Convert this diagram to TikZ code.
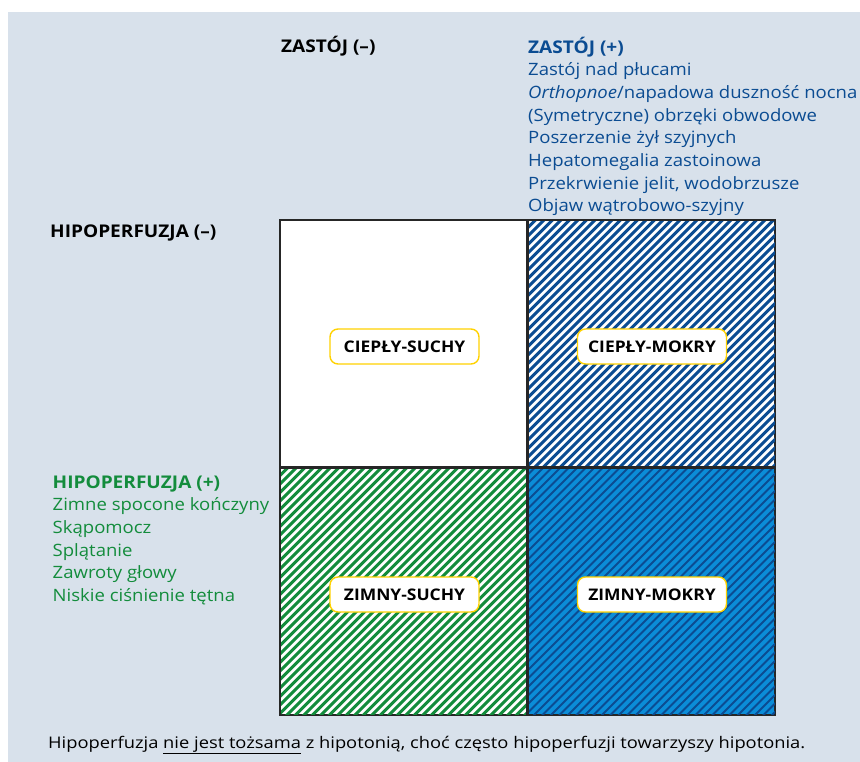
\documentclass[tikz,border=0pt]{standalone}
\usepackage{fontspec}
\usepackage{graphicx}
\setmainfont{Open Sans}[FakeStretch=1.09]
\definecolor{panelbg}{HTML}{D8E1EB}
\definecolor{navy}{HTML}{0B4C92}
\definecolor{leaf}{HTML}{138C3C}
\definecolor{sky}{HTML}{0B8DD8}
\definecolor{gold}{HTML}{FFD200}
\tikzset{
  cell/.style={draw=black!85, line width=1.2pt, minimum width=247pt, minimum height=247pt, anchor=north west, inner sep=0pt},
  stripeblue/.style={draw=navy, line width=3pt},
  stripedeep/.style={draw=navy, line width=2pt},
  stripegreen/.style={draw=leaf, line width=3pt},
  tag/.style={draw=gold, line width=1.4pt, fill=white, rounded corners=8pt, minimum width=149pt, minimum height=35pt, inner sep=0pt, font=\bfseries\fontsize{16}{18}\selectfont, text=black},
  txt/.style={anchor=base west, inner sep=0pt, font=\fontsize{17}{20}\selectfont},
  head/.style={txt, font=\bfseries\fontsize{17.5}{20}\selectfont},
}
\begin{document}
\begin{tikzpicture}[x=1pt, y=-1pt]
\useasboundingbox (0,0) rectangle (860,762);
\fill[white] (0,0) rectangle (860,762);
\fill[panelbg] (8,12) rectangle (860,762);

% quadrant cells
\node[cell, fill=white] (ws) at (280,220) {};
\node[cell, fill=white] (wm) at (527,220) {};
\node[cell, fill=white] (cs) at (280,467) {};
\node[cell, fill=sky] (cm) at (527,467) {};

% diagonal hatching
\begin{scope}
  \clip (wm.south west) rectangle (wm.north east);
  \foreach \k in {0,...,60} \draw[stripeblue] (527-250+\k*8.5, 470) -- ++(253,-253);
\end{scope}
\begin{scope}
  \clip (cs.south west) rectangle (cs.north east);
  \foreach \k in {0,...,60} \draw[stripegreen] (280-250+\k*8.5, 717) -- ++(253,-253);
\end{scope}
\begin{scope}
  \clip (cm.south west) rectangle (cm.north east);
  \foreach \k in {0,...,60} \draw[stripedeep] (527-250+\k*8.5, 717) -- ++(253,-253);
\end{scope}

% cell borders on top of the hatching
\foreach \c in {ws,wm,cs,cm} \draw[draw=black!85, line width=1.2pt] (\c.north west) rectangle (\c.south east);

% quadrant labels
\node[tag] (lws) at (404.5,346.5) {CIEPŁY-SUCHY};
\node[tag] (lwm) at (652,346.5) {CIEPŁY-MOKRY};
\node[tag] (lcs) at (404.5,594.5) {ZIMNY-SUCHY};
\node[tag] (lcm) at (652,594.5) {ZIMNY-MOKRY};

% axis headings
\node[head, text=black] (zneg) at (281,53) {ZASTÓJ (–)};
\node[head, text=black] (hneg) at (50,238) {HIPOPERFUZJA (–)};
\node[head, text=navy] (zpos) at (528,53.5) {ZASTÓJ (+)};
\node[head, text=leaf] (hpos) at (52.5,488) {HIPOPERFUZJA (+)};

% congestion signs
\foreach \t [count=\i] in {Zastój nad płucami, {\textit{Orthopnoe}/napadowa duszność nocna}, (Symetryczne) obrzęki obwodowe, Poszerzenie żył szyjnych, Hepatomegalia zastoinowa, {Przekrwienie jelit, wodobrzusze}, Objaw wątrobowo-szyjny}
  \node[txt, text=navy] (zs\i) at (528, 75.7+\i*22.7-22.7) {\t};

% hypoperfusion signs
\foreach \t [count=\i] in {Zimne spocone kończyny, Skąpomocz, Splątanie, Zawroty głowy, Niskie ciśnienie tętna}
  \node[txt, text=leaf] (hs\i) at (52.5, 510.7+\i*22.7-22.7) {\t};

% footnote
\node[txt, font=\fontsize{16}{18}\selectfont] (note) at (48,748)
  {\resizebox{757pt}{\height}{Hipoperfuzja \underline{nie jest tożsama} z hipotonią, choć często hipoperfuzji towarzyszy hipotonia.}};
\end{tikzpicture}
\end{document}
